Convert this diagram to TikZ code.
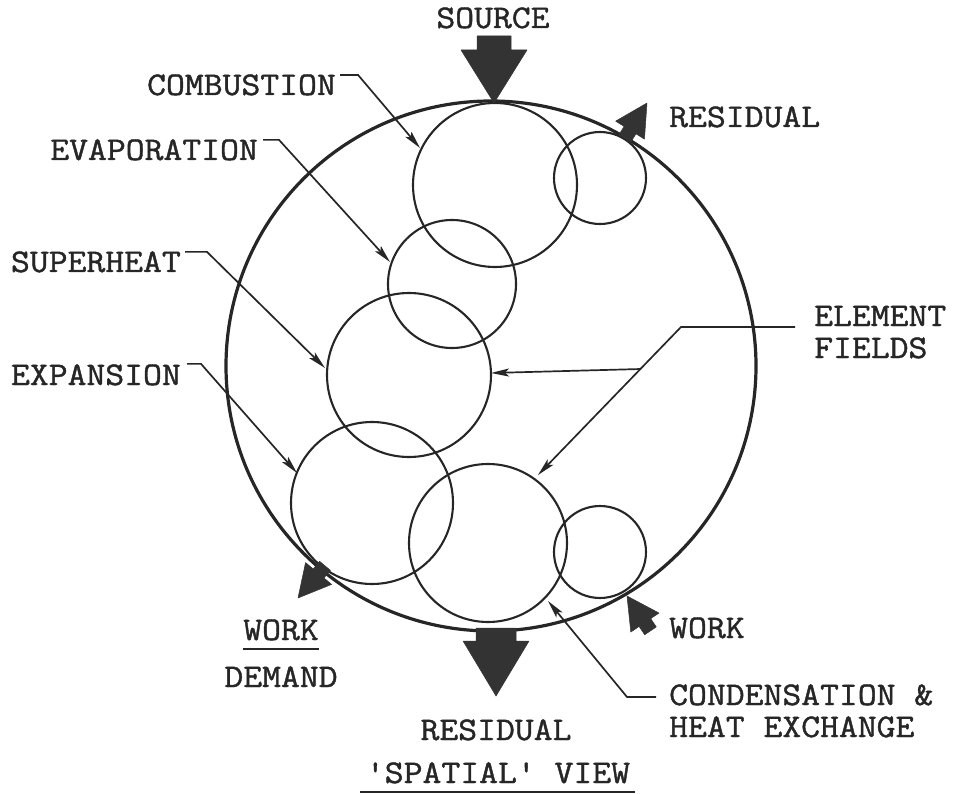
\documentclass[tikz,border=0pt]{standalone}
\usepackage{fontspec}
\newfontfamily\tw{Latin Modern Mono}[FakeStretch=1.11,FakeBold=1.3]
\usetikzlibrary{arrows.meta}
\begin{document}
\begin{tikzpicture}[x=1pt,y=-1pt,
  lbl/.style={font=\fontsize{33}{34}\selectfont\tw, inner sep=0pt, text=black!85},
  bigc/.style={line width=3.2pt, black!85},
  smc/.style={line width=2.1pt, black!85},
  lead/.style={line width=1.7pt, black!85, -{Stealth[length=18pt,width=8pt,inset=4pt]}},
  blk/.style={fill=black!80, draw=black!80, line width=0.5pt, line join=round}]
\useasboundingbox (0,0) rectangle (953,794);
% main circle and element fields
\coordinate (O) at (491,366);
\draw[bigc] (O) circle[radius=265pt];
\coordinate (cComb) at (495,185);
\coordinate (cRes) at (600,178);
\coordinate (cEvap) at (452,284);
\coordinate (cSup) at (409,375);
\coordinate (cExp) at (372,503);
\coordinate (cCond) at (488,543);
\coordinate (cWork) at (600,552);
\draw[smc] (cComb) circle[radius=82pt];
\draw[smc] (cRes) circle[radius=46pt];
\draw[smc] (cEvap) circle[radius=64pt];
\draw[smc] (cSup) circle[radius=82pt];
\draw[smc] (cExp) circle[radius=81pt];
\draw[smc] (cCond) circle[radius=79pt];
\draw[smc] (cWork) circle[radius=46pt];
% big block arrows
\coordinate (srcTip) at (494,103);
\coordinate (resTip) at (496,696);
\foreach \t/\len/\hw/\sw/\tot in {srcTip/53/33/17/67, resTip/55/33/20/68}{
  \begin{scope}[shift={(\t)}, rotate=-90]
    \fill[blk] (0,0) -- (-\len,\hw) -- (-\len,\sw) -- (-\tot,\sw) -- (-\tot,-\sw) -- (-\len,-\sw) -- (-\len,-\hw) -- cycle;
  \end{scope}}
% small block arrows
\coordinate (aRes) at (647,103);
\coordinate (aDem) at (298,598);
\coordinate (aWork) at (627,596);
\foreach \t/\a in {aRes/58, aDem/230, aWork/124}{
  \begin{scope}[shift={(\t)}, rotate=\a]
    \fill[blk] (0,0) -- (-32,-17) -- (-32,-7) -- (-42,-7) -- (-42,7) -- (-32,7) -- (-32,17) -- cycle;
  \end{scope}}
% labels
\node[lbl, anchor=base] (tSource) at (493,28) {SOURCE};
\node[lbl, anchor=base west] (tResTop) at (669,127) {RESIDUAL};
\node[lbl, anchor=base east] (tComb) at (336,95) {COMBUSTION};
\node[lbl, anchor=base east] (tEvap) at (258,160) {EVAPORATION};
\node[lbl, anchor=base east] (tSup) at (181,272) {SUPERHEAT};
\node[lbl, anchor=base east] (tExp) at (181,385) {EXPANSION};
\node[lbl, anchor=base west, align=left] (tElem) at (814,358) {ELEMENT\\[-2pt]FIELDS};
\node[lbl, anchor=base] (tWorkD) at (281,640) {WORK};
\node[lbl, anchor=base] (tDemand) at (281,687) {DEMAND};
\node[lbl, anchor=base west] (tWork) at (669,638) {WORK};
\node[lbl, anchor=base west, align=left] (tCond) at (669,737) {CONDENSATION \&\\[-2pt]HEAT EXCHANGE};
\node[lbl, anchor=base] (tResBot) at (496,740) {RESIDUAL};
\node[lbl, anchor=base] (tTitle) at (498,783) {'SPATIAL' VIEW};
\draw[line width=2pt, black!85] (tWorkD.south west) ++(0,8) coordinate (uw1) -- (uw1 -| tWorkD.south east);
\draw[line width=2pt, black!85] (360,792) coordinate (ut1) -- (635,792) coordinate (ut2);
% leaders
\coordinate (eComb) at (420,148);
\coordinate (eEvap) at (390,262);
\coordinate (eSup) at (325,368);
\coordinate (eExp) at (297,473);
\draw[lead] (tComb.east) ++(4,-10) -- ++(18,0) -- (eComb);
\draw[lead] (tEvap.east) ++(5,-10) -- ++(16,0) -- (eEvap);
\draw[lead] (tSup.east) ++(4,-10) -- ++(22,0) -- (eSup);
\draw[lead] (tExp.east) ++(6,-11) -- ++(14,0) -- (eExp);
\coordinate (ef1) at (795,327);
\coordinate (ef2) at (681,327);
\coordinate (efB) at (641,369);
\coordinate (eSupR) at (491,373);
\coordinate (eCondT) at (538,475);
\draw[lead] (ef1) -- (ef2) -- (eCondT);
\draw[lead] (efB) -- (eSupR);
\coordinate (cd1) at (656,697);
\coordinate (cd2) at (627,697);
\coordinate (eCond) at (548,601);
\draw[lead] (cd1) -- (cd2) -- (eCond);
\end{tikzpicture}
\end{document}
